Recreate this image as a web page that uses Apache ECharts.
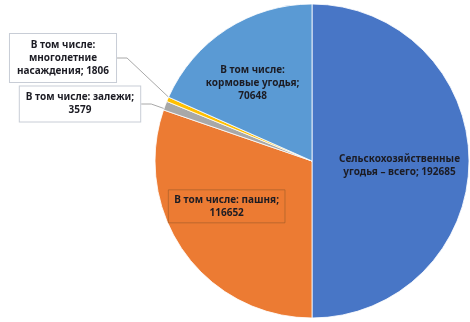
<!DOCTYPE html>
<html><head><meta charset="utf-8">
<script src="https://cdn.jsdelivr.net/npm/echarts@6/dist/echarts.min.js"></script>
<style>html,body{margin:0;padding:0;background:#fff}#c{width:470px;height:322px}</style>
</head><body><div id="c"></div>
<script>
const categories = [
  'Сельскохозяйственные угодья – всего',
  'В том числе: пашня',
  'В том числе: залежи',
  'В том числе: многолетние насаждения',
  'В том числе: кормовые угодья'
];
const values = [192685, 116652, 3579, 1806, 70648];
const labelTexts = [
  'Сельскохозяйственные\nугодья – всего; 192685',
  'В том числе: пашня;\n116652',
  'В том числе: залежи;\n3579',
  'В том числе:\nмноголетние\nнасаждения; 1806',
  'В том числе:\nкормовые угодья;\n70648'
];
const colors = ['#4876c6', '#ec7b33', '#a8a8a8', '#ffc000', '#5a9ad4'];

const baseText = {
  fontFamily: 'Noto Sans', fontWeight: 'bold', fontSize: 10, color: '#1c1c24', lineHeight: 13, align: 'center'
};
const labelCfg = [
  {position: 'inside'},
  {position: 'inside', borderColor: 'rgba(150,90,40,0.55)', borderWidth: 1, padding: [4, 6, 3, 6]},
  {position: 'inside', backgroundColor: '#fff', borderColor: '#c8cdd6', borderWidth: 1, padding: [5, 6, 4, 6]},
  {position: 'inside', backgroundColor: '#fff', borderColor: '#c8cdd6', borderWidth: 1, padding: [5, 7, 4, 7]},
  {position: 'inside'}
];
const layoutCfg = [
  {dx: 6, dy: 5},
  {dx: -19, dy: -2},
  {x: 80, y: 104, align: 'center', verticalAlign: 'middle'},
  {x: 63, y: 58, align: 'center', verticalAlign: 'middle'},
  {dx: -15, dy: -9}
];

const chart = echarts.init(document.getElementById('c'), null, {renderer: 'canvas'});
chart.setOption({
  animation: false,
  series: [{
    type: 'pie',
    center: [312, 161],
    radius: 157,
    startAngle: 90,
    clockwise: true,
    avoidLabelOverlap: false,
    itemStyle: {borderColor: '#ffffff', borderWidth: 0.8},
    labelLine: {show: true, length: 10, length2: 10, lineStyle: {color: '#a8a8a8', width: 1}},
    labelLayout: function (p) { return layoutCfg[p.dataIndex]; },
    data: categories.map((name, i) => ({
      name: name,
      value: values[i],
      itemStyle: {color: colors[i]},
      label: Object.assign({show: true, formatter: labelTexts[i]}, baseText, labelCfg[i]),
      labelLine: {show: i === 2 || i === 3}
    }))
  }]
});
</script></body></html>
